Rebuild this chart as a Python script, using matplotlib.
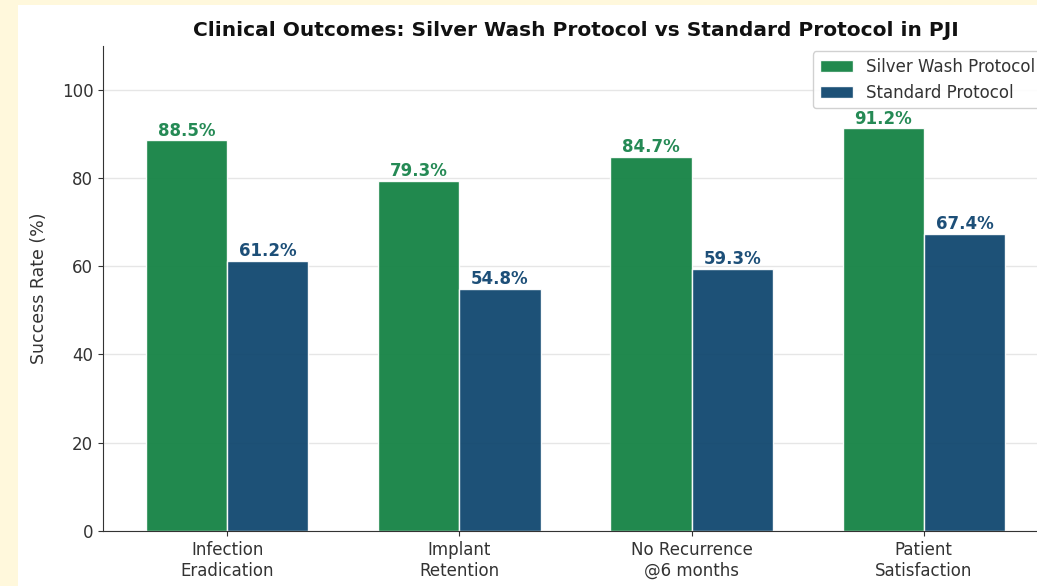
import numpy as np
import matplotlib.pyplot as plt
from matplotlib.patches import Rectangle

categories = ['Infection\nEradication', 'Implant\nRetention', 'No Recurrence\n@6 months', 'Patient\nSatisfaction']
silver_wash = [88.5, 79.3, 84.7, 91.2]
standard = [61.2, 54.8, 59.3, 67.4]

green = '#138243'
blue = '#0f466e'

plt.rcParams['text.color'] = '#333333'
plt.rcParams['axes.labelcolor'] = '#333333'
plt.rcParams['axes.edgecolor'] = '#333333'
plt.rcParams['xtick.color'] = '#333333'
plt.rcParams['ytick.color'] = '#333333'

fig = plt.figure(figsize=(10.37, 5.86), dpi=100)
fig.patch.set_facecolor('#fff8dc')
# white panel the chart sits on
fig.add_artist(Rectangle((18 / 1037, 0), 1.0, 1 - 5 / 586, transform=fig.transFigure,
                         facecolor='white', edgecolor='none', zorder=-5))

ax = fig.add_axes([103 / 1037, 55 / 586, 945 / 1037, 485.5 / 586])
ax.set_facecolor('white')

x = np.arange(len(categories))
width = 0.35
b1 = ax.bar(x - width / 2, silver_wash, width, color=green, edgecolor='white', linewidth=1,
            alpha=0.94, label='Silver Wash Protocol', zorder=2)
b2 = ax.bar(x + width / 2, standard, width, color=blue, edgecolor='white', linewidth=1,
            alpha=0.94, label='Standard Protocol', zorder=2)

for bars, col in ((b1, '#258a55'), (b2, '#1d4f78')):
    for bar in bars:
        h = bar.get_height()
        ax.text(bar.get_x() + bar.get_width() / 2, h + 0.2, f'{h:.1f}%', ha='center', va='bottom',
                fontsize=12, fontweight='bold', color=col, zorder=3)

ax.set_ylim(0, 110)
ax.set_xticks(x)
ax.set_xticklabels(categories, fontsize=12)
ax.tick_params(axis='y', labelsize=12)
ax.set_ylabel('Success Rate (%)', fontsize=12.5, labelpad=10)
ax.set_title('Clinical Outcomes: Silver Wash Protocol vs Standard Protocol in PJI',
             fontsize=14.5, fontweight='bold', pad=7, color='#111111')
ax.yaxis.grid(True, color='#e6e6e6', linewidth=1, zorder=0)
ax.set_axisbelow(True)
ax.spines['top'].set_visible(False)
ax.spines['right'].set_visible(False)
ax.legend(loc='upper right', fontsize=12, framealpha=0.9, labelspacing=0.45,
          borderaxespad=0.35)

fig.savefig('out.png', dpi=100, facecolor=fig.get_facecolor())
